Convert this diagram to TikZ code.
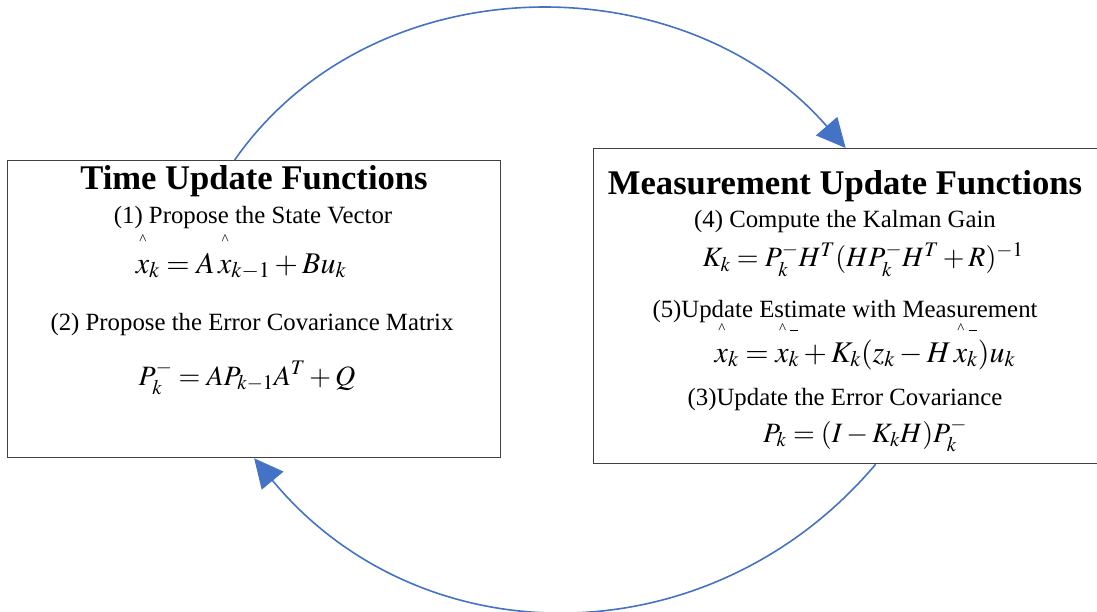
\documentclass[tikz,border=0pt]{standalone}
\usepackage{amsmath}
\usepackage{mathptmx}
\usepackage{fontspec}
\setmainfont{Liberation Serif}
\usetikzlibrary{arrows.meta}
\definecolor{arrowblue}{HTML}{4472C4}
\newcommand{\fhat}[1]{\rlap{\hspace{0.12em}\raisebox{0.95em}{\fontsize{15}{15}\selectfont\textasciicircum}}#1}
\newcommand{\fhatm}[1]{\rlap{\hspace{0.12em}\raisebox{0.95em}{\fontsize{15}{15}\selectfont\textasciicircum\hspace{4pt}\rule[0.45ex]{8pt}{0.9pt}}}#1}
\tikzset{
  box/.style={draw=black!75, line width=1.3pt, inner sep=0pt, anchor=north west},
  title/.style={anchor=base, inner sep=0pt, font=\fontsize{34.6}{40}\selectfont\bfseries},
  body/.style={anchor=base, inner sep=0pt, font=\fontsize{24.8}{30}\selectfont},
  eq/.style={anchor=base, inner sep=0pt, font=\fontsize{28}{34}\selectfont},
  eqx/.style={anchor=base, inner sep=0pt, font=\fontsize{30}{36}\selectfont},
  conn/.style={draw=arrowblue, line width=1.6pt, -{Triangle[length=29pt,width=28pt]}},
}
\begin{document}
\begin{tikzpicture}[x=1pt,y=-1pt]
\useasboundingbox (0,0) rectangle (1097,612);
\clip (0,0) rectangle (1097,612);
\node[box, minimum width=493pt, minimum height=297pt] (tbox) at (7,160) {};
\node[box, minimum width=510pt, minimum height=315pt] (mbox) at (593,148) {};
% left box text
\node[title] (ttl) at (254,190) {Time Update Functions};
\node[body] (t1) at (253,224) {(1) Propose the State Vector};
\node[eqx] (e1) at (241,273) {$\fhat{x}_k = A\,\fhat{x}_{k-1} + Bu_k$};
\node[body] (t2) at (252,330) {(2) Propose the Error Covariance Matrix};
\node[eq] (e2) at (247,385) {$P_k^- = AP_{k-1}A^T + Q$};
% right box text
\node[title] (mtl) at (845,195) {Measurement Update Functions};
\node[body] (t4) at (845,228) {(4) Compute the Kalman Gain};
\node[eq] (e4) at (863,267) {$K_k = P_k^- H^T (HP_k^- H^T + R)^{-1}$};
\node[body] (t5) at (845,317) {(5)Update Estimate with Measurement};
\node[eqx] (e5) at (865,362) {$\fhat{x}_k = \fhatm{x}_k + K_k(z_k - H\,\fhatm{x}_k)u_k$};
\node[body] (t3) at (845,405) {(3)Update the Error Covariance};
\node[eq] (e3) at (865,442) {$P_k = (I - K_kH)P_k^-$};
% connectors
\draw[conn] ([xshift=-19.5pt]tbox.north) .. controls (373,-38) and (684,-38) .. ([xshift=-3pt]mbox.north);
\draw[conn] ([xshift=27pt]mbox.south) .. controls (710,660) and (421,660) .. (tbox.south);
\end{tikzpicture}
\end{document}
